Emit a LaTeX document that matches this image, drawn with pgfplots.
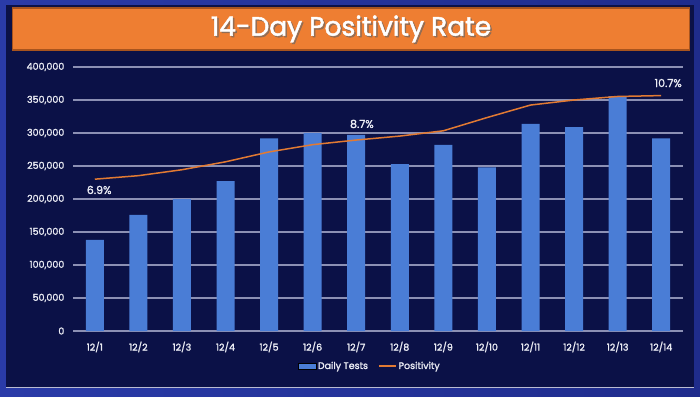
\documentclass[border=0pt]{standalone}
\usepackage{pgfplots}
\pgfplotsset{compat=1.18}
\usepackage{fontspec}
\setmainfont{Poppins}
\newfontfamily\semib{Poppins}[FakeBold=1.6]
\newfontfamily\titlef{Poppins}[FakeBold=1.8]
\definecolor{outerL}{HTML}{2A3BA8}
\definecolor{outerR}{HTML}{1F2C8C}
\definecolor{panel}{HTML}{0B1147}
\definecolor{titleor}{HTML}{EE7E32}
\definecolor{titleedge}{HTML}{A8541E}
\definecolor{barblue}{HTML}{4A7DD6}
\definecolor{posor}{HTML}{E27A33}
\definecolor{gridgray}{HTML}{8C90B4}
\definecolor{txt}{HTML}{ECEDF5}
\begin{document}
\begin{tikzpicture}[x=1pt,y=1pt]
\useasboundingbox (0,0) rectangle (700,396);
\shade[left color=outerL, right color=outerR] (0,0) rectangle (700,396);
\fill[panel] (6,9) rectangle (694,391);
\draw[gridgray!60, line width=0.8pt] (6,9) -- (694,9);
\fill[titleedge] (12,345) rectangle (690,389);
\fill[titleor] (13,347) rectangle (689,387);
\node[font=\titlef\fontsize{26.5}{30}\selectfont, black!60, opacity=0.6] at (352.5,365.5) {14-Day Positivity Rate};
\node[font=\titlef\fontsize{26.5}{30}\selectfont, white] at (351,367) {14-Day Positivity Rate};
\begin{axis}[
  at={(73pt,65pt)}, anchor=south west,
  scale only axis, width=610pt, height=264pt,
  xmin=-0.5, xmax=13.5, ymin=0, ymax=400000,
  axis x line=bottom, axis y line=left,
  x axis line style={draw=gridgray, line width=0.8pt, -},
  y axis line style={draw=none},
  xtick={0,...,13},
  xticklabels={12/1,12/2,12/3,12/4,12/5,12/6,12/7,12/8,12/9,12/10,12/11,12/12,12/13,12/14},
  x tick style={draw=none},
  extra x ticks={-0.5,0.5,...,13.5},
  extra x tick labels={},
  extra x tick style={tick style={draw=gridgray, line width=0.8pt}, major tick length=4pt, tick align=outside, grid=none},
  ytick={0,50000,...,400000},
  y tick style={draw=none},
  scaled y ticks=false,
  yticklabel style={/pgf/number format/fixed, /pgf/number format/1000 sep={,}, /pgf/number format/assume math mode=true, font=\semib\fontsize{9.5}{11}\selectfont, text=txt, xshift=-3pt},
  xticklabel style={font=\semib\fontsize{9.5}{11}\selectfont, text=txt, yshift=-5pt},
  ymajorgrids, grid style={gridgray, line width=1.3pt},
  legend style={at={(0.487,-0.133)}, anchor=center, draw=none, fill=none, text=txt, font=\semib\fontsize{9.5}{11}\selectfont, legend columns=2, /tikz/every even column/.append style={column sep=8pt}},
  legend cell align=left,
]
\addplot[ybar, bar width=18pt, fill=barblue, draw=none, area legend] coordinates {
(0,138000) (1,176000) (2,200000) (3,227000) (4,292000) (5,300000) (6,297000)
(7,253000) (8,282000) (9,248000) (10,314000) (11,309000) (12,356000) (13,292000)};
\addlegendentry{Daily Tests}
\addlegendimage{line legend, draw=posor, line width=1.5pt}
\addlegendentry{Positivity}
\end{axis}
\begin{axis}[
  at={(73pt,65pt)}, anchor=south west,
  scale only axis, width=610pt, height=264pt,
  xmin=-0.5, xmax=13.5, ymin=0, ymax=12,
  hide axis, clip=false,
]
\addplot[draw=posor, line width=1.5pt] coordinates {
(0,6.9) (1,7.06) (2,7.33) (3,7.69) (4,8.14) (5,8.47) (6,8.68)
(7,8.86) (8,9.1) (9,9.7) (10,10.27) (11,10.5) (12,10.66) (13,10.7)};
\node[font=\semib\fontsize{11}{13}\selectfont, text=txt] at (axis cs:0.1,6.41) {6.9\%};
\node[font=\semib\fontsize{11}{13}\selectfont, text=txt] at (axis cs:6.13,9.41) {8.7\%};
\node[font=\semib\fontsize{11}{13}\selectfont, text=txt] at (axis cs:13.16,11.27) {10.7\%};
\end{axis}
\end{tikzpicture}
\end{document}
